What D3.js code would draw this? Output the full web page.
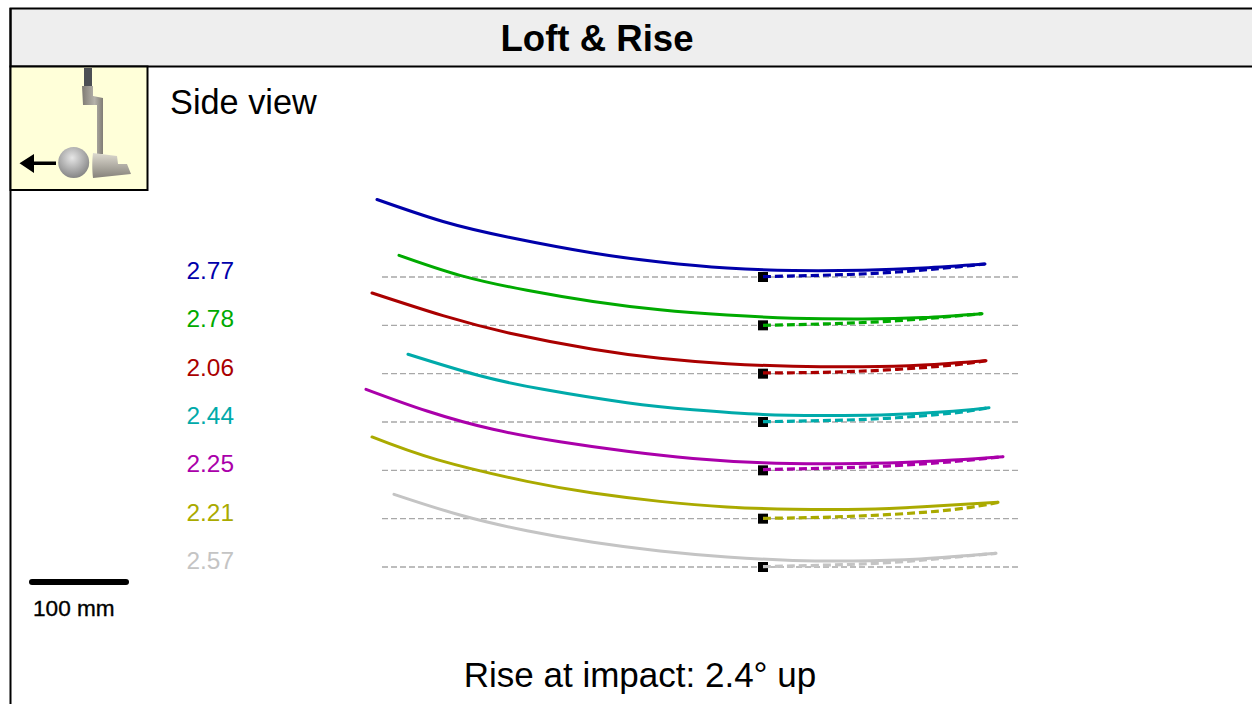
<!DOCTYPE html>
<html><head><meta charset="utf-8">
<script src="https://cdn.jsdelivr.net/npm/d3@7"></script>
<style>html,body{margin:0;padding:0;background:#fff;overflow:hidden}svg{display:block}text{font-family:"Liberation Sans",Arial,sans-serif}</style>
</head><body><svg id="c" width="1252" height="704"></svg>
<script>
// Putts: offset along target line (mm, impact = 0) and height above ground (mm)
const rowLabels = ["2.77","2.78","2.06","2.44","2.25","2.21","2.57"];
const rowColors = ["#0000aa","#00aa00","#aa0000","#00aaaa","#aa00aa","#aaaa00","#c4c4c4"];
const title = "Loft & Rise";
const subtitle = "Side view";
const footer = "Rise at impact: 2.4° up";
const scaleLabel = "100 mm";
const scaleLength = 100;

const solidX1 = [-386,-320,-253,-170,-103,-36,30,100,160,222];
const solidH1 = [77.5,55.5,39.5,24,15,9,6.5,6.8,9,13];
const solidX2 = [-364,-303,-236,-170,-103,-36,30,100,160,219];
const solidH2 = [70,50,35,23.8,15.5,10.3,7.2,6.4,7.8,11.7];
const solidX3 = [-391,-320,-253,-170,-103,-36,30,100,160,223];
const solidH3 = [80.7,58,40.5,24.5,15.5,10,7.5,7,8.7,13];
const solidX4 = [-355,-286,-220,-136,-70,0,60,124,190,226];
const solidH4 = [67.7,47,32.7,19.3,12.3,7.6,6.6,7.3,10.7,14.3];
const solidX5 = [-397,-336,-270,-203,-136,-70,0,60,124,190,240];
const solidH5 = [81,59.3,41,28.5,19,11.9,7.5,6.5,7.3,10.3,13.7];
const solidX6 = [-391,-326,-236,-170,-103,-36,30,100,160,235];
const solidH6 = [81.7,59,37.3,25.7,17.3,11.7,9.5,9.5,12,16.3];
const solidX7 = [-369,-303,-236,-170,-103,-36,30,90,157,233];
const solidH7 = [72.7,52,36.3,24.7,16,10,6.6,6,8,13.7];

const dashX1 = [0,57,124,190,222];
const dashH1 = [0.3,1.7,4.3,9.7,13];
const dashX2 = [0,57,124,190,219];
const dashH2 = [0,1.3,4,9,11.7];
const dashX3 = [0,57,124,190,223];
const dashH3 = [0.7,1.3,3.7,8.6,13];
const dashX4 = [0,57,124,190,226];
const dashH4 = [0.3,1.3,3.7,9,14.3];
const dashX5 = [0,57,124,190,240];
const dashH5 = [0.7,2,4.3,8.7,13.7];
const dashX6 = [0,57,124,190,235];
const dashH6 = [0.3,1.3,4,9,16.3];
const dashX7 = [0,57,124,190,233];
const dashH7 = [0.3,1.7,4.3,9.7,13.7];

const solids = [[solidX1,solidH1],[solidX2,solidH2],[solidX3,solidH3],[solidX4,solidH4],[solidX5,solidH5],[solidX6,solidH6],[solidX7,solidH7]];
const dashes = [[dashX1,dashH1],[dashX2,dashH2],[dashX3,dashH3],[dashX4,dashH4],[dashX5,dashH5],[dashX6,dashH6],[dashX7,dashH7]];

const svg = d3.select("#c");
const x = d3.scaleLinear().domain([-400,300]).range([363,1063]);
const y = d3.scaleLinear().domain([0,100]).range([0,-100]);
const row = d3.scalePoint().domain(rowLabels).range([277,567]);
const line = d3.line().x(d=>x(d[0])).y(d=>y(d[1])).curve(d3.curveNatural);
const zipXY = p => p[0].map((v,i)=>[v,p[1][i]]);

// Frame
svg.append("rect").attr("x",10.5).attr("y",8.5).attr("width",1300).attr("height",58).attr("fill","#eeeeee").attr("stroke","#000").attr("stroke-width",2);
svg.append("line").attr("x1",10.5).attr("x2",10.5).attr("y1",8).attr("y2",704).attr("stroke","#000").attr("stroke-width",2);
svg.append("text").attr("x",597).attr("y",51).attr("text-anchor","middle").attr("font-size",36.6).attr("font-weight","bold").attr("fill","#000").text(title);
svg.append("text").attr("x",170).attr("y",114).attr("font-size",34.3).attr("fill","#000").text(subtitle);
svg.append("text").attr("x",640).attr("y",687).attr("text-anchor","middle").attr("font-size",35).attr("fill","#000").text(footer);

// Icon
const defs = svg.append("defs");
const bg = defs.append("radialGradient").attr("id","ball").attr("cx","0.45").attr("cy","0.35").attr("r","0.7");
bg.append("stop").attr("offset","0").attr("stop-color","#e6e6e6");
bg.append("stop").attr("offset","1").attr("stop-color","#7e7e7e");
const mg = defs.append("linearGradient").attr("id","metal").attr("x1","0").attr("x2","1").attr("y1","0").attr("y2","0");
mg.append("stop").attr("offset","0").attr("stop-color","#7f7b74");
mg.append("stop").attr("offset","0.6").attr("stop-color","#b5b2aa");
mg.append("stop").attr("offset","1").attr("stop-color","#807c75");
const hg = defs.append("linearGradient").attr("id","head").attr("x1","0").attr("x2","0").attr("y1","0").attr("y2","1");
hg.append("stop").attr("offset","0").attr("stop-color","#dedbd0");
hg.append("stop").attr("offset","1").attr("stop-color","#85817a");
const icon = svg.append("g");
icon.append("rect").attr("x",10.5).attr("y",66.5).attr("width",137).attr("height",123.5).attr("fill","#ffffd9").attr("stroke","#000").attr("stroke-width",2);
icon.append("path").attr("d","M84 68H92V86H84Z").attr("fill","#4c4f54");
icon.append("path").attr("d","M82 86H93V96L103 98V154H97V105H83Z").attr("fill","url(#metal)");
icon.append("path").attr("d","M93 153L117 156L118 164H127L131 174L93 178C92 170 92 160 93 153Z").attr("fill","url(#head)");
icon.append("circle").attr("cx",73.7).attr("cy",162.5).attr("r",15.5).attr("fill","url(#ball)");
icon.append("path").attr("d","M19.5 163.3L34 154V161.5H56V165H34V173Z").attr("fill","#000");

// Scale bar
svg.append("line").attr("x1",32).attr("x2",32+x(scaleLength)-x(0)-6).attr("y1",582).attr("y2",582).attr("stroke","#000").attr("stroke-width",6).attr("stroke-linecap","round");
svg.append("text").attr("x",33).attr("y",616).attr("font-size",22.6).attr("fill","#000").attr("stroke","#000").attr("stroke-width",0.35).text(scaleLabel);

// Rows
rowLabels.forEach((lab,i)=>{
  const g = svg.append("g").attr("transform",`translate(0,${row(lab)})`);
  g.append("line").attr("x1",382).attr("x2",1018).attr("y1",0).attr("y2",0)
    .attr("stroke","#a8a8a8").attr("stroke-width",1.3).attr("stroke-dasharray","6,3");
  g.append("rect").attr("x",x(0)-5).attr("y",-5).attr("width",10).attr("height",10).attr("fill","#000");
  g.append("path").attr("d",line(zipXY(dashes[i]))).attr("fill","none").attr("stroke",rowColors[i]).attr("stroke-width",3.2).attr("stroke-dasharray","8,4");
  g.append("path").attr("d",line(zipXY(solids[i]))).attr("fill","none").attr("stroke",rowColors[i]).attr("stroke-width",3).attr("stroke-linecap","round");
  g.append("text").attr("x",186.5).attr("y",2).attr("font-size",24.4).attr("fill",rowColors[i]).text(lab);
});
</script></body></html>
